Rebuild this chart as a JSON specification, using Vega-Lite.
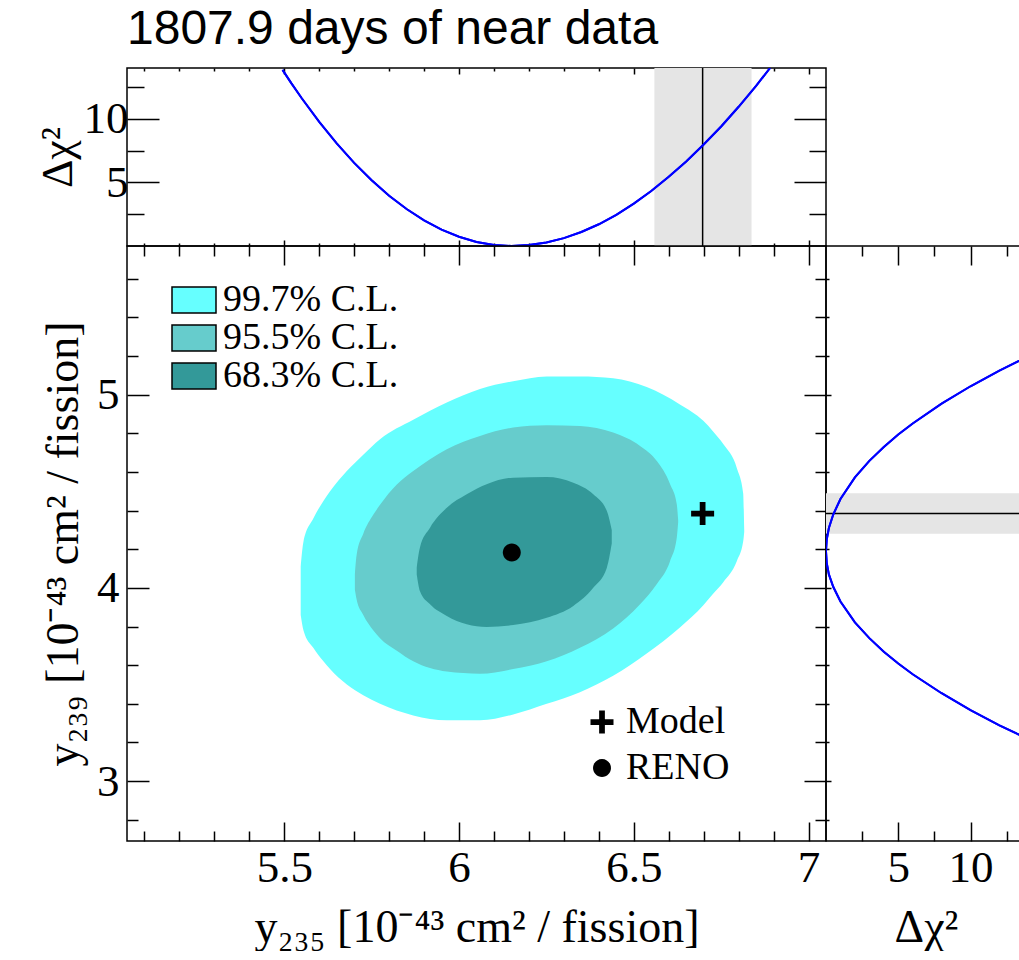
{
  "$schema": "https://vega.github.io/schema/vega-lite/v6.json",
  "background": "white",
  "padding": {"left": 35, "top": 6, "right": 0, "bottom": 0},
  "title": {"text": "1807.9 days of near data", "anchor": "start", "frame": "group", "font": "Liberation Sans", "fontSize": 48, "fontWeight": "normal", "color": "black", "offset": 10},
  "columns": 2,
  "spacing": 0,
  "bounds": "flush",
  "align": "each",
  "config": {
    "view": {"stroke": "black", "strokeWidth": 1.5},
    "axis": {"domain": false, "grid": false, "labelFont": "Liberation Serif", "labelFontSize": 45, "labelColor": "black", "titleFont": "Liberation Serif", "titleFontSize": 46, "titleFontWeight": "normal", "titleColor": "black", "tickColor": "black", "tickWidth": 1.5, "labelFlush": false, "labelOverlap": false}
  },
  "datasets": {
    "outer": [
      {"x": 5.547, "lo": 3.86, "hi": 4.11, "level": "99.7% C.L."},
      {"x": 5.555, "lo": 3.78, "hi": 4.24, "level": "99.7% C.L."},
      {"x": 5.583, "lo": 3.69, "hi": 4.36, "level": "99.7% C.L."},
      {"x": 5.612, "lo": 3.62, "hi": 4.45, "level": "99.7% C.L."},
      {"x": 5.631, "lo": 3.58, "hi": 4.50, "level": "99.7% C.L."},
      {"x": 5.679, "lo": 3.50, "hi": 4.605, "level": "99.7% C.L."},
      {"x": 5.726, "lo": 3.445, "hi": 4.69, "level": "99.7% C.L."},
      {"x": 5.774, "lo": 3.40, "hi": 4.77, "level": "99.7% C.L."},
      {"x": 5.869, "lo": 3.34, "hi": 4.87, "level": "99.7% C.L."},
      {"x": 5.965, "lo": 3.315, "hi": 4.96, "level": "99.7% C.L."},
      {"x": 6.060, "lo": 3.315, "hi": 5.03, "level": "99.7% C.L."},
      {"x": 6.155, "lo": 3.345, "hi": 5.07, "level": "99.7% C.L."},
      {"x": 6.251, "lo": 3.40, "hi": 5.095, "level": "99.7% C.L."},
      {"x": 6.346, "lo": 3.46, "hi": 5.095, "level": "99.7% C.L."},
      {"x": 6.441, "lo": 3.545, "hi": 5.085, "level": "99.7% C.L."},
      {"x": 6.537, "lo": 3.66, "hi": 5.04, "level": "99.7% C.L."},
      {"x": 6.632, "lo": 3.795, "hi": 4.95, "level": "99.7% C.L."},
      {"x": 6.699, "lo": 3.91, "hi": 4.865, "level": "99.7% C.L."},
      {"x": 6.727, "lo": 3.97, "hi": 4.81, "level": "99.7% C.L."},
      {"x": 6.756, "lo": 4.03, "hi": 4.745, "level": "99.7% C.L."},
      {"x": 6.795, "lo": 4.14, "hi": 4.62, "level": "99.7% C.L."},
      {"x": 6.813, "lo": 4.24, "hi": 4.49, "level": "99.7% C.L."},
      {"x": 6.816, "lo": 4.29, "hi": 4.30, "level": "99.7% C.L."}
    ],
    "middle": [
      {"x": 5.702, "lo": 3.99, "hi": 4.07, "level": "95.5% C.L."},
      {"x": 5.707, "lo": 3.94, "hi": 4.17, "level": "95.5% C.L."},
      {"x": 5.726, "lo": 3.86, "hi": 4.28, "level": "95.5% C.L."},
      {"x": 5.755, "lo": 3.78, "hi": 4.38, "level": "95.5% C.L."},
      {"x": 5.774, "lo": 3.74, "hi": 4.43, "level": "95.5% C.L."},
      {"x": 5.822, "lo": 3.675, "hi": 4.535, "level": "95.5% C.L."},
      {"x": 5.869, "lo": 3.62, "hi": 4.605, "level": "95.5% C.L."},
      {"x": 5.965, "lo": 3.567, "hi": 4.718, "level": "95.5% C.L."},
      {"x": 6.060, "lo": 3.556, "hi": 4.787, "level": "95.5% C.L."},
      {"x": 6.155, "lo": 3.58, "hi": 4.83, "level": "95.5% C.L."},
      {"x": 6.251, "lo": 3.62, "hi": 4.842, "level": "95.5% C.L."},
      {"x": 6.346, "lo": 3.69, "hi": 4.838, "level": "95.5% C.L."},
      {"x": 6.441, "lo": 3.79, "hi": 4.804, "level": "95.5% C.L."},
      {"x": 6.518, "lo": 3.915, "hi": 4.735, "level": "95.5% C.L."},
      {"x": 6.566, "lo": 4.02, "hi": 4.657, "level": "95.5% C.L."},
      {"x": 6.604, "lo": 4.14, "hi": 4.537, "level": "95.5% C.L."},
      {"x": 6.623, "lo": 4.26, "hi": 4.433, "level": "95.5% C.L."},
      {"x": 6.627, "lo": 4.34, "hi": 4.35, "level": "95.5% C.L."}
    ],
    "inner": [
      {"x": 5.879, "lo": 4.07, "hi": 4.105, "level": "68.3% C.L."},
      {"x": 5.888, "lo": 3.984, "hi": 4.208, "level": "68.3% C.L."},
      {"x": 5.917, "lo": 3.915, "hi": 4.312, "level": "68.3% C.L."},
      {"x": 5.965, "lo": 3.855, "hi": 4.415, "level": "68.3% C.L."},
      {"x": 6.022, "lo": 3.812, "hi": 4.485, "level": "68.3% C.L."},
      {"x": 6.079, "lo": 3.798, "hi": 4.537, "level": "68.3% C.L."},
      {"x": 6.155, "lo": 3.808, "hi": 4.571, "level": "68.3% C.L."},
      {"x": 6.251, "lo": 3.846, "hi": 4.574, "level": "68.3% C.L."},
      {"x": 6.327, "lo": 3.907, "hi": 4.545, "level": "68.3% C.L."},
      {"x": 6.384, "lo": 4.001, "hi": 4.485, "level": "68.3% C.L."},
      {"x": 6.423, "lo": 4.105, "hi": 4.398, "level": "68.3% C.L."},
      {"x": 6.437, "lo": 4.23, "hi": 4.30, "level": "68.3% C.L."}
    ],
    "points": [
      {"x": 6.697, "y": 4.385, "name": "Model"},
      {"x": 6.151, "y": 4.183, "name": "RENO"}
    ],
    "topcurve": [
      {"x": 5.495, "d": 13.85}, {"x": 5.52, "d": 12.81}, {"x": 5.55, "d": 11.62}, {"x": 5.60, "d": 9.77},
      {"x": 5.65, "d": 8.07}, {"x": 5.70, "d": 6.54}, {"x": 5.75, "d": 5.17}, {"x": 5.80, "d": 3.95},
      {"x": 5.85, "d": 2.91}, {"x": 5.90, "d": 2.02}, {"x": 5.95, "d": 1.29}, {"x": 6.00, "d": 0.73},
      {"x": 6.05, "d": 0.32}, {"x": 6.10, "d": 0.08}, {"x": 6.15, "d": 0.0}, {"x": 6.20, "d": 0.07},
      {"x": 6.25, "d": 0.28}, {"x": 6.30, "d": 0.62}, {"x": 6.35, "d": 1.10}, {"x": 6.40, "d": 1.71},
      {"x": 6.45, "d": 2.45}, {"x": 6.50, "d": 3.33}, {"x": 6.55, "d": 4.33}, {"x": 6.60, "d": 5.45},
      {"x": 6.65, "d": 6.65}, {"x": 6.70, "d": 7.98}, {"x": 6.75, "d": 9.40}, {"x": 6.80, "d": 10.95},
      {"x": 6.85, "d": 12.60}, {"x": 6.89, "d": 14.0}
    ],
    "rightcurve": [
      {"y": 3.217, "d": 14}, {"y": 3.289, "d": 12}, {"y": 3.368, "d": 10}, {"y": 3.455, "d": 8},
      {"y": 3.553, "d": 6}, {"y": 3.609, "d": 5}, {"y": 3.67, "d": 4}, {"y": 3.74, "d": 3},
      {"y": 3.822, "d": 2}, {"y": 3.93, "d": 1}, {"y": 4.006, "d": 0.5}, {"y": 4.07, "d": 0.2},
      {"y": 4.13, "d": 0.05}, {"y": 4.19, "d": 0}, {"y": 4.25, "d": 0.05}, {"y": 4.31, "d": 0.2},
      {"y": 4.38, "d": 0.5}, {"y": 4.46, "d": 1}, {"y": 4.572, "d": 2}, {"y": 4.658, "d": 3},
      {"y": 4.73, "d": 4}, {"y": 4.794, "d": 5}, {"y": 4.851, "d": 6}, {"y": 4.954, "d": 8},
      {"y": 5.044, "d": 10}, {"y": 5.125, "d": 12}, {"y": 5.20, "d": 14}
    ]
  },
  "concat": [
    {
      "width": 699,
      "height": 178,
      "resolve": {"axis": {"x": "independent", "y": "independent"}},
      "layer": [
        {
          "data": {"values": [{"lo": 6.559, "hi": 6.837}]},
          "mark": {"type": "rect", "color": "#e5e5e5"},
          "encoding": {
            "x": {"field": "lo", "type": "quantitative", "scale": {"domain": [5.05, 7.05], "nice": false, "zero": false},
              "axis": {"orient": "bottom", "values": [5.1,5.2,5.3,5.4,5.5,5.6,5.7,5.8,5.9,6.0,6.1,6.2,6.3,6.4,6.5,6.6,6.7,6.8,6.9,7.0], "labels": false, "title": null,
                "tickSize": {"condition": {"test": "abs(datum.value*2-round(datum.value*2))<0.001", "value": -6}, "value": -3}}},
            "x2": {"field": "hi"}
          }
        },
        {
          "data": {"values": [{"m": 6.697}]},
          "mark": {"type": "rule", "color": "black", "strokeWidth": 1.5},
          "encoding": {"x": {"field": "m", "type": "quantitative", "axis": null}}
        },
        {
          "data": {"name": "topcurve"},
          "mark": {"type": "line", "color": "#0000ff", "strokeWidth": 2, "clip": true},
          "encoding": {
            "x": {"field": "x", "type": "quantitative", "axis": null},
            "y": {"field": "d", "type": "quantitative", "scale": {"domain": [0, 14], "nice": false},
              "axis": {"orient": "left", "values": [2.5, 5, 7.5, 10, 12.5], "format": "~g",
                "labelExpr": "abs(datum.value/5-round(datum.value/5))<0.001 ? datum.label : ''",
                "tickSize": {"condition": {"test": "abs(datum.value/5-round(datum.value/5))<0.001", "value": -32}, "value": -17},
                "labelPadding": 31, "title": "Δχ²", "titlePadding": 12, "titleBaseline": "alphabetic", "titleFontSize": 44}}
          }
        },
        {
          "data": {"name": "topcurve"},
          "mark": {"type": "line", "color": "#0000ff", "strokeWidth": 2, "clip": true},
          "encoding": {
            "x": {"field": "x", "type": "quantitative",
              "axis": {"orient": "top", "values": [5.1,5.2,5.3,5.4,5.5,5.6,5.7,5.8,5.9,6.0,6.1,6.2,6.3,6.4,6.5,6.6,6.7,6.8,6.9,7.0], "labels": false, "title": null,
                "tickSize": {"condition": {"test": "abs(datum.value*2-round(datum.value*2))<0.001", "value": -6}, "value": -3}}},
            "y": {"field": "d", "type": "quantitative",
              "axis": {"orient": "right", "values": [2.5, 5, 7.5, 10, 12.5], "labels": false, "title": null,
                "tickSize": {"condition": {"test": "abs(datum.value/5-round(datum.value/5))<0.001", "value": -32}, "value": -17}}}
          }
        }
      ]
    },
    {
      "width": 200,
      "height": 178,
      "view": {"stroke": null},
      "data": {"values": [{"a": 1}]},
      "mark": {"type": "point", "opacity": 0},
      "encoding": {}
    },
    {
      "width": 699,
      "height": 595,
      "resolve": {"axis": {"x": "independent", "y": "independent"}},
      "layer": [
        {
          "data": {"name": "outer"},
          "mark": {"type": "area", "interpolate": "monotone", "opacity": 1},
          "encoding": {
            "x": {"field": "x", "type": "quantitative", "scale": {"domain": [5.05, 7.05], "nice": false, "zero": false},
              "axis": {"orient": "bottom", "values": [5.1,5.2,5.3,5.4,5.5,5.6,5.7,5.8,5.9,6.0,6.1,6.2,6.3,6.4,6.5,6.6,6.7,6.8,6.9,7.0], "format": "~g",
                "labelExpr": "abs(datum.value*2-round(datum.value*2))<0.001 ? datum.label : ''",
                "tickSize": {"condition": {"test": "abs(datum.value*2-round(datum.value*2))<0.001", "value": -19}, "value": -10},
                "labelPadding": 23, "title": "y₂₃₅ [10⁻⁴³ cm² / fission]", "titlePadding": 42, "titleBaseline": "alphabetic"}},
            "y": {"field": "hi", "type": "quantitative", "scale": {"domain": [2.69, 5.77], "nice": false, "zero": false},
              "axis": {"orient": "left", "values": [2.8,3.0,3.2,3.4,3.6,3.8,4.0,4.2,4.4,4.6,4.8,5.0,5.2,5.4,5.6], "format": "~g",
                "labelExpr": "abs(datum.value-round(datum.value))<0.001 ? datum.label : ''",
                "tickSize": {"condition": {"test": "abs(datum.value-round(datum.value))<0.001", "value": -22}, "value": -11},
                "labelPadding": 30, "title": "y₂₃₉ [10⁻⁴³ cm² / fission]", "titlePadding": 19, "titleBaseline": "alphabetic"}},
            "y2": {"field": "lo"},
            "fill": {"field": "level", "type": "nominal",
              "scale": {"domain": ["99.7% C.L.", "95.5% C.L.", "68.3% C.L."], "range": ["#66ffff", "#66cccc", "#339999"]},
              "legend": {"title": null, "orient": "none", "legendX": 44, "legendY": 214, "symbolType": "M-1,-0.59H1V0.59H-1Z", "symbolSize": 1936,
                "symbolStrokeColor": "black", "symbolStrokeWidth": 1.5, "symbolOpacity": 1, "labelFont": "Liberation Serif", "labelFontSize": 38,
                "labelColor": "black", "labelOffset": 6, "clipHeight": 36, "rowPadding": 0, "padding": 0, "labelLimit": 400}}
          }
        },
        {
          "data": {"name": "middle"},
          "mark": {"type": "area", "interpolate": "monotone", "opacity": 1},
          "encoding": {
            "x": {"field": "x", "type": "quantitative",
              "axis": {"orient": "top", "values": [5.1,5.2,5.3,5.4,5.5,5.6,5.7,5.8,5.9,6.0,6.1,6.2,6.3,6.4,6.5,6.6,6.7,6.8,6.9,7.0], "labels": false, "title": null,
                "tickSize": {"condition": {"test": "abs(datum.value*2-round(datum.value*2))<0.001", "value": -19}, "value": -10}}},
            "y": {"field": "hi", "type": "quantitative",
              "axis": {"orient": "right", "values": [2.8,3.0,3.2,3.4,3.6,3.8,4.0,4.2,4.4,4.6,4.8,5.0,5.2,5.4,5.6], "labels": false, "title": null,
                "tickSize": {"condition": {"test": "abs(datum.value-round(datum.value))<0.001", "value": -22}, "value": -11}}},
            "y2": {"field": "lo"},
            "fill": {"field": "level", "type": "nominal"}
          }
        },
        {
          "data": {"name": "inner"},
          "mark": {"type": "area", "interpolate": "monotone", "opacity": 1},
          "encoding": {
            "x": {"field": "x", "type": "quantitative", "axis": null},
            "y": {"field": "hi", "type": "quantitative", "axis": null},
            "y2": {"field": "lo"},
            "fill": {"field": "level", "type": "nominal"}
          }
        },
        {
          "data": {"name": "points"},
          "mark": {"type": "point", "filled": true, "color": "black", "opacity": 1, "strokeWidth": 0, "size": 529},
          "encoding": {
            "x": {"field": "x", "type": "quantitative", "axis": null},
            "y": {"field": "y", "type": "quantitative", "axis": null},
            "shape": {"field": "name", "type": "nominal",
              "scale": {"domain": ["Model", "RENO"], "range": ["M-0.25,-1H0.25V-0.25H1V0.25H0.25V1H-0.25V0.25H-1V-0.25H-0.25Z", "M-0.78,0A0.78,0.78 0 1,0 0.78,0A0.78,0.78 0 1,0 -0.78,0Z"]},
              "legend": {"title": null, "orient": "none", "legendX": 456, "legendY": 631, "symbolSize": 529, "symbolFillColor": "black", "symbolStrokeColor": "black",
                "symbolStrokeWidth": 0, "symbolOpacity": 1, "labelFont": "Liberation Serif", "labelFontSize": 38, "labelColor": "black", "labelOffset": 5, "clipHeight": 46, "rowPadding": 0, "padding": 0}}
          }
        }
      ]
    },
    {
      "width": 200,
      "height": 595,
      "resolve": {"axis": {"x": "independent", "y": "independent"}},
      "layer": [
        {
          "data": {"values": [{"lo": 4.28, "hi": 4.49}]},
          "mark": {"type": "rect", "color": "#e5e5e5"},
          "encoding": {
            "y": {"field": "lo", "type": "quantitative", "scale": {"domain": [2.69, 5.77], "nice": false, "zero": false},
              "axis": {"orient": "left", "values": [2.8,3.0,3.2,3.4,3.6,3.8,4.0,4.2,4.4,4.6,4.8,5.0,5.2,5.4,5.6], "labels": false, "title": null,
                "tickSize": {"condition": {"test": "abs(datum.value-round(datum.value))<0.001", "value": -5}, "value": -3}}},
            "y2": {"field": "hi"}
          }
        },
        {
          "data": {"values": [{"m": 4.385}]},
          "mark": {"type": "rule", "color": "black", "strokeWidth": 1.5},
          "encoding": {"y": {"field": "m", "type": "quantitative", "axis": null}}
        },
        {
          "data": {"name": "rightcurve"},
          "mark": {"type": "line", "color": "#0000ff", "strokeWidth": 2, "clip": true},
          "encoding": {
            "x": {"field": "d", "type": "quantitative", "scale": {"domain": [0, 13.84], "nice": false},
              "axis": {"orient": "bottom", "values": [2.5, 5, 7.5, 10, 12.5], "format": "~g",
                "labelExpr": "abs(datum.value/5-round(datum.value/5))<0.001 ? datum.label : ''",
                "tickSize": {"condition": {"test": "abs(datum.value/5-round(datum.value/5))<0.001", "value": -19}, "value": -10},
                "labelPadding": 23, "title": "Δχ²", "titlePadding": 42, "titleBaseline": "alphabetic", "titleFontSize": 46}},
            "y": {"field": "y", "type": "quantitative", "axis": null},
            "order": {"field": "y", "type": "quantitative"}
          }
        },
        {
          "data": {"name": "rightcurve"},
          "mark": {"type": "line", "color": "#0000ff", "strokeWidth": 2, "clip": true},
          "encoding": {
            "x": {"field": "d", "type": "quantitative",
              "axis": {"orient": "top", "values": [2.5, 5, 7.5, 10, 12.5], "labels": false, "title": null,
                "tickSize": {"condition": {"test": "abs(datum.value/5-round(datum.value/5))<0.001", "value": -19}, "value": -10}}},
            "y": {"field": "y", "type": "quantitative", "axis": null},
            "order": {"field": "y", "type": "quantitative"}
          }
        }
      ]
    }
  ]
}
